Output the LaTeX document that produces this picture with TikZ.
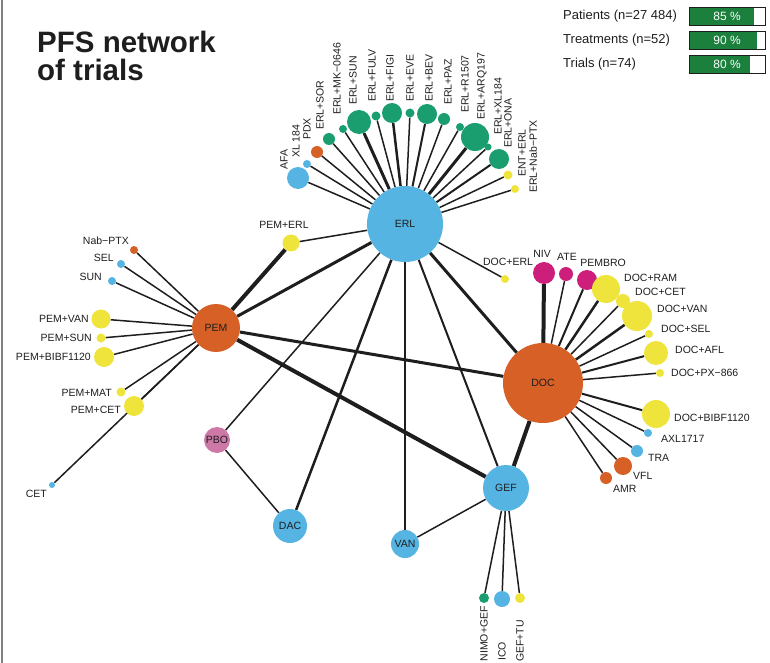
\documentclass[tikz,border=0pt]{standalone}
\usepackage{fontspec}
\setmainfont{Liberation Sans}
\usetikzlibrary{backgrounds}
\definecolor{nwblue}{RGB}{86,180,227}
\definecolor{nworange}{RGB}{214,96,38}
\definecolor{nwgreen}{RGB}{26,158,112}
\definecolor{nwyellow}{RGB}{238,228,60}
\definecolor{nwmagenta}{RGB}{204,30,122}
\definecolor{nwpink}{RGB}{204,121,167}
\definecolor{bargreen}{RGB}{26,128,60}
\definecolor{ink}{RGB}{30,30,30}
\tikzset{
	trt/.style={circle, inner sep=0pt, minimum size=#1, text=ink, font=\fontsize{10.5}{12}\selectfont},
	lab/.style={inner sep=0pt, text=ink, font=\fontsize{10.5}{12}\selectfont},
	edge/.style={draw=ink, line width=#1},
}
\begin{document}
\begin{tikzpicture}[x=1pt, y=-1pt]
	\useasboundingbox (0,0) rectangle (770,663);
	\draw[gray, line width=1.5] (2,0) -- (2,663);

	\node[anchor=north west, inner sep=0pt, align=left, text=ink, font=\bfseries\fontsize{29.5}{28}\selectfont] (title) at (37,31) {PFS network\\of trials};

	\foreach \i/\t/\p in {0/Patients (n=27 484)/85, 1/Treatments (n=52)/90, 2/Trials (n=74)/80} {
		\node[anchor=west, inner sep=0pt, text=ink, font=\fontsize{13}{15}\selectfont] (leg\i) at (563,16+24*\i) {\t};
		\fill[bargreen] (689,7+24*\i) rectangle (689+0.76*\p,25+24*\i);
		\draw[ink, line width=0.6] (689,7+24*\i) rectangle (765,25+24*\i);
		\node[text=white, font=\fontsize{12}{14}\selectfont] (bar\i) at (727,16+24*\i) {\p\ \%};
	}

	\node[trt=76, fill=nwblue] (ERL) at (405,224) {ERL};
	\node[trt=48, fill=nworange] (PEM) at (216,328) {PEM};
	\node[trt=80, fill=nworange] (DOC) at (543,383) {DOC};
	\node[trt=46, fill=nwblue] (GEF) at (506,488) {GEF};
	\node[trt=28, fill=nwblue] (VAN) at (405,544) {VAN};
	\node[trt=34, fill=nwblue] (DAC) at (290,526) {DAC};
	\node[trt=26, fill=nwpink] (PBO) at (217,440) {PBO};
	\node[trt=17, fill=nwyellow] (PEMERL) at (291,243) {};
	\node[lab] (lPEMERL) at (284,225) {PEM+ERL};
	\node[trt=8, fill=nwyellow] (DOCERL) at (505,279) {};
	\node[lab] (lDOCERL) at (508,262) {DOC+ERL};

	\begin{scope}[on background layer]
		\foreach \a/\b/\w in {PEM/ERL/3, PEM/PEMERL/4, PEMERL/ERL/1.5, PEM/DOC/3, PEM/GEF/4, ERL/DOC/3, ERL/GEF/2, ERL/VAN/2.5, ERL/DAC/2.5, ERL/PBO/1.5, ERL/DOCERL/1.5, PBO/DAC/1.5, DOC/GEF/4, GEF/VAN/1.5}
			\draw[edge=\w] (\a) -- (\b);
	\end{scope}

	\foreach \n/\x/\y/\d/\c/\w/\lx/\ly/\t in {
		e1/298/178/22/nwblue/1.5/284/170/AFA,
		e2/307/164/8/nwblue/1.5/296/158/XL 184,
		e3/317/152/12/nworange/1.5/307/140/PDX,
		e4/329/139/12/nwgreen/1.5/320/130/ERL+SOR,
		e5/343/129/8/nwgreen/1.5/337/115/ERL+MK−0646,
		e6/359/122/24/nwgreen/3/353/105/ERL+SUN,
		e7/376/116/9/nwgreen/1.5/372/102/ERL+FULV,
		e8/392/113/20/nwgreen/2.5/390/102/ERL+FIGI,
		e9/410/113/9/nwgreen/1.5/410/102/ERL+EVE,
		e10/427/114/20/nwgreen/2/429/102/ERL+BEV,
		e11/444/119/12/nwgreen/1.5/448/105/ERL+PAZ,
		e12/460/127/8/nwgreen/1.5/465/113/ERL+R1507,
		e13/475/137/28/nwgreen/3/482/120/ERL+ARQ197,
		e14/488/147/7/nwgreen/1.5/498/135/ERL+XL184,
		e15/499/159/20/nwgreen/2/508/148/ERL+ONA,
		e16/508/175/9/nwyellow/1.5/522/177/ENT+ERL,
		e17/515/189/8/nwyellow/1.5/533/193/ERL+Nab−PTX} {
		\node[trt=\d, fill=\c] (\n) at (\x,\y) {};
		\node[lab, rotate=90, anchor=west] (l\n) at (\lx,\ly) {\t};
		\begin{scope}[on background layer]
			\draw[edge=\w] (ERL) -- (\n);
		\end{scope}
	}

	\foreach \n/\x/\y/\d/\c/\w/\lx/\ly/\t in {
		p1/134/250/8/nworange/1.5/129/241/Nab−PTX,
		p2/121/264/8/nwblue/1.5/114/258/SEL,
		p3/112/281/8/nwblue/1.5/102/277/SUN,
		p4/101/319/19/nwyellow/1.5/89/319/PEM+VAN,
		p5/101/338/9/nwyellow/1.5/92/338/PEM+SUN,
		p6/104/357/20/nwyellow/1.5/91/357/PEM+BIBF1120,
		p7/121/392/9/nwyellow/1.5/112/393/PEM+MAT,
		p8/134/406/20/nwyellow/1.5/121/410/PEM+CET,
		p9/52/485/6/nwblue/1.5/47/494/CET} {
		\node[trt=\d, fill=\c] (\n) at (\x,\y) {};
		\node[lab, anchor=east] (l\n) at (\lx,\ly) {\t};
		\begin{scope}[on background layer]
			\draw[edge=\w] (PEM) -- (\n);
		\end{scope}
	}

	\foreach \n/\x/\y/\d/\c/\w/\a/\lx/\ly/\t in {
		d2/544/273/22/nwmagenta/4/center/542/254/NIV,
		d3/566/274/14/nwmagenta/1.5/center/567/257/ATE,
		d4/587/280/20/nwmagenta/2/center/603/263/PEMBRO,
		d5/606/289/28/nwyellow/2.5/west/624/278/DOC+RAM,
		d6/623/301/14/nwyellow/1.5/west/635/292/DOC+CET,
		d7/637/316/30/nwyellow/2.5/west/657/309/DOC+VAN,
		d8/649/334/8/nwyellow/1.5/west/661/329/DOC+SEL,
		d9/656/353/24/nwyellow/2/west/675/350/DOC+AFL,
		d10/660/373/8/nwyellow/1.5/west/671/373/DOC+PX−866,
		d11/656/414/28/nwyellow/2/west/674/418/DOC+BIBF1120,
		d12/648/433/8/nwblue/1.5/west/661/439/AXL1717,
		d13/637/451/12/nwblue/1.5/west/648/458/TRA,
		d14/623/466/18/nworange/1.5/west/633/476/VFL,
		d15/606/478/12/nworange/1.5/west/613/489/AMR} {
		\node[trt=\d, fill=\c] (\n) at (\x,\y) {};
		\node[lab, anchor=\a] (l\n) at (\lx,\ly) {\t};
		\begin{scope}[on background layer]
			\draw[edge=\w] (DOC) -- (\n);
		\end{scope}
	}

	\foreach \n/\x/\y/\d/\c/\lx/\ly/\t in {
		g1/484/598/10/nwgreen/484/606/NIMO+GEF,
		g2/502/599/16/nwblue/502/642/ICO,
		g3/520/598/10/nwyellow/520/620/GEF+TU} {
		\node[trt=\d, fill=\c] (\n) at (\x,\y) {};
		\node[lab, rotate=90, anchor=east] (l\n) at (\lx,\ly) {\t};
		\begin{scope}[on background layer]
			\draw[edge=1.5] (GEF) -- (\n);
		\end{scope}
	}
\end{tikzpicture}
\end{document}
